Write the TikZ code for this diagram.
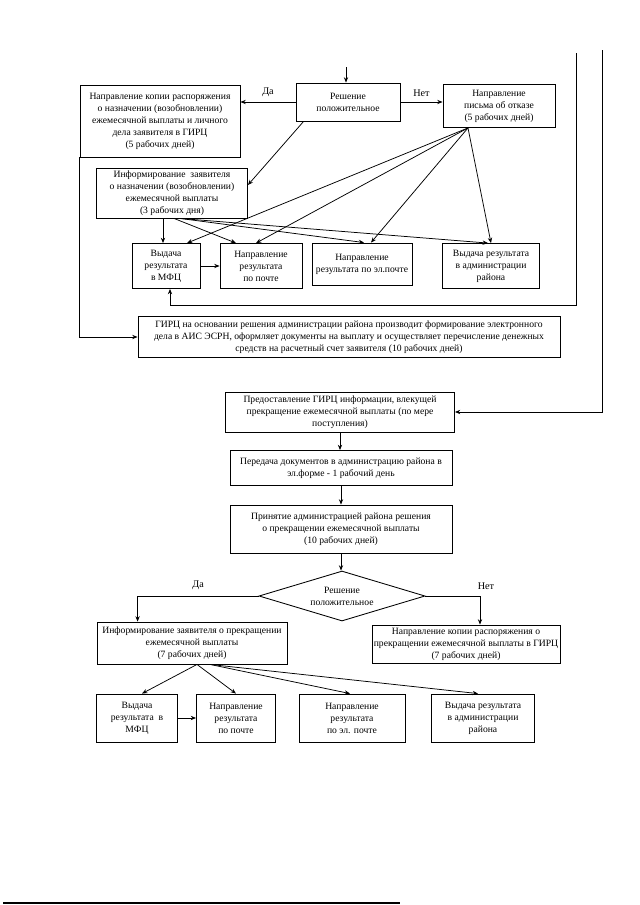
\documentclass[tikz,border=0pt]{standalone}
\usepackage{fontspec}
\setmainfont{Liberation Serif}
\usetikzlibrary{arrows.meta,shapes.geometric,positioning,calc}
\newlength\pu
\setlength\pu{0.328125mm}
\tikzset{
	box/.style 2 args={draw,line width=0.8pt,align=center,inner sep=1pt,minimum width=#1\pu,minimum height=#2\pu,font=\fontsize{9}{11.2}\selectfont},
	decision/.style 2 args={diamond,draw,line width=0.8pt,align=center,inner sep=0pt,aspect=3.3,minimum width=#1\pu,minimum height=#2\pu,font=\fontsize{9}{11.2}\selectfont},
	diredge/.style={-{Stealth[width=4pt,length=5pt]},line width=0.7pt},
	answer/.style={font=\fontsize{9.5}{11}\selectfont,inner sep=2pt},
	rule/.style={line width=1pt}
}
\begin{document}
\begin{tikzpicture}[x=\pu,y=-\pu]
	\useasboundingbox (0,0) rectangle (640,905);
	%%% first decision
	\coordinate (in) at (346,67);
	\node[box={104}{38}] (R) at (348,102) {Решение\\положительное};
	\node[box={160}{72}] (A) at (160,121) {Направление копии распоряжения\\о назначении (возобновлении)\\ежемесячной выплаты и личного\\дела заявителя в ГИРЦ\\(5 рабочих дней)};
	\node[box={112}{43}] (N) at (499,106) {Направление\\письма об отказе\\(5 рабочих дней)};
	\node[box={151}{50}] (I) at (172,193) {Информирование~~заявителя\\о назначении (возобновлении)\\ежемесячной выплаты\\(3 рабочих дня)};
	\node[box={68}{45}] (M) at (166,266) {Выдача\\результата\\в МФЦ};
	\node[box={82}{45}] (P) at (261,266) {Направление\\результата\\по почте};
	\node[box={100}{42}] (E) at (362,264) {Направление\\результата по эл.почте};
	\node[box={97}{45}] (D) at (491,266) {Выдача результата\\в администрации\\района};
	\node[box={422}{41}] (G) at (349,337) {ГИРЦ на основании решения администрации района производит формирование электронного\\дела в АИС ЭСРН, оформляет документы на выплату и осуществляет перечисление денежных\\средств на расчетный счет заявителя (10 рабочих дней)};
	
	\draw[diredge] (in) -- (in |- R.north);
	\draw[diredge] (R.west) -- (R.west -| A.east) node[midway,above,yshift=3\pu,answer] {Да};
	\draw[diredge] (R.east) -- (R.east -| N.west) node[midway,above,yshift=3\pu,answer] {Нет};
	\draw[diredge] ([xshift=8\pu]R.south west) -- ([yshift=8\pu]I.east);
	
	\coordinate (n0) at ([xshift=-31\pu]N.south);
	\draw[diredge] (n0) -- ([xshift=21\pu]M.north);
	\draw[diredge] (n0) -- ([xshift=-5\pu]P.north);
	\draw[diredge] (n0) -- ([xshift=9\pu]E.north);
	\draw[diredge] (n0) -- (D.north);
	
	\coordinate (i0) at ([xshift=2\pu]I.south);
	\coordinate (i1) at ([xshift=8\pu]I.south);
	\draw[diredge] ([xshift=-9\pu]I.south) -- ([xshift=-9\pu]I.south |- M.north);
	\draw[diredge] (i0) -- ([xshift=-25\pu]P.north);
	\draw[diredge] (i1) -- ([xshift=2\pu]E.north);
	\draw[diredge] (i1) -- ([xshift=-3\pu]D.north);
	\draw[diredge] (M.east) -- (M.east -| P.west);
	
	\coordinate (r0) at (576,53);
	\coordinate (r1) at (576,305);
	\draw[diredge] (r0) -- (r1) -| ([xshift=4\pu]M.south);
	\draw[diredge] (A.south west) |- (G.west);
	
	%%% termination
	\coordinate (o0) at (602,50);
	\node[box={229}{40}] (S1) at (340,412) {Предоставление ГИРЦ информации, влекущей\\прекращение ежемесячной выплаты (по мере\\поступления)};
	\node[box={222}{35}] (S2) at (341,468) {Передача документов в администрацию района в\\эл.форме - 1 рабочий день};
	\node[box={222}{48}] (S3) at (341,529) {Принятие администрацией района решения\\о прекращении ежемесячной выплаты\\(10 рабочих дней)};
	\node[decision={166}{50}] (Q) at (342,596) {Решение\\положительное};
	\node[box={190}{42}] (I2) at (192,643) {Информирование заявителя о прекращении\\ежемесячной выплаты\\(7 рабочих дней)};
	\node[box={188}{38}] (N2) at (466,644) {Направление копии распоряжения о\\прекращении ежемесячной выплаты в ГИРЦ\\(7 рабочих дней)};
	\node[box={81}{48}] (M2) at (137,718) {Выдача\\результата~~в\\МФЦ};
	\node[box={79}{48}] (P2) at (236,718) {Направление\\результата\\по почте};
	\node[box={106}{48}] (E2) at (352,718) {Направление\\результата\\по эл. почте};
	\node[box={103}{48}] (D2) at (483,718) {Выдача результата\\в администрации\\района};
	
	\draw[diredge] (o0) |- (S1.east);
	\draw[diredge] (S1.south) -- (S1.south |- S2.north);
	\draw[diredge] (S2.south) -- (S2.south |- S3.north);
	\draw[diredge] (S3.south) -- (S3.south |- Q.north);
	\draw[diredge] (Q.west) -| ([xshift=41\pu]I2.north west) node[pos=0.25,above,yshift=4\pu,answer] {Да};
	\draw[diredge] (Q.east) -| ([xshift=14\pu]N2.north) node[pos=0.5,above,xshift=6\pu,yshift=4\pu,answer] {Нет};
	
	\coordinate (j0) at ([xshift=5\pu]I2.south);
	\coordinate (j1) at ([xshift=18\pu]I2.south);
	\draw[diredge] (j0) -- ([xshift=5\pu]M2.north);
	\draw[diredge] (j0) -- (P2.north);
	\draw[diredge] (j1) -- ([xshift=-2\pu]E2.north);
	\draw[diredge] (j1) -- ([xshift=-5\pu]D2.north);
	\draw[diredge] (M2.east) -- (M2.east -| P2.west);
	
	\draw[rule] (3,903) -- (400,903);
\end{tikzpicture}
\end{document}
